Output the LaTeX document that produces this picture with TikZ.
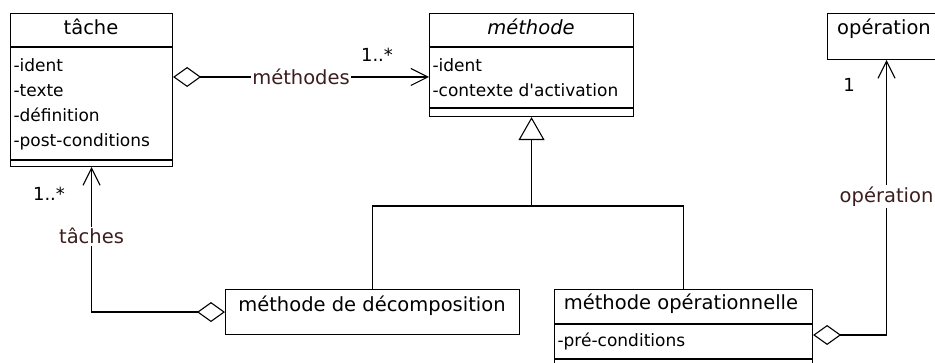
\documentclass[tikz,border=0pt]{standalone}
\usepackage{fontspec}
\setmainfont{DejaVu Sans}
\usetikzlibrary{arrows.meta}
\definecolor{lbl}{RGB}{60,30,30}
\tikzset{
  box/.style={draw, rectangle, anchor=north west, inner sep=0pt},
  ttl/.style={font=\fontsize{19.5}{21}\selectfont, anchor=base, inner sep=0pt},
  attr/.style={font=\fontsize{17}{19}\selectfont, anchor=base west, inner sep=0pt},
  lab/.style={font=\fontsize{19.5}{21}\selectfont, text=lbl, fill=white, inner sep=1.5pt},
  mult/.style={font=\fontsize{18}{20}\selectfont, anchor=base, inner sep=0pt},
  agg/.style={{Diamond[open,length=28pt,width=20pt]}-{Straight Barb[length=17pt,width=17pt]}},
  gen/.style={-{Triangle[open,length=23pt,width=26pt]}}
}
\begin{document}
\begin{tikzpicture}[x=1pt,y=-1pt,line width=1.1pt]
\useasboundingbox[fill=white] (0,0) rectangle (935,363);

% tache
\node[box, minimum width=162pt, minimum height=153pt] (tache) at (10,13) {};
\draw (tache.west |- 0,47) -- (tache.east |- 0,47);
\draw (tache.west |- 0,160) -- (tache.east |- 0,160);
\node[ttl] (tt) at (91,35) {tâche};
\node[attr] (ta1) at (13,72) {-ident};
\node[attr] (ta2) at (13,97) {-texte};
\node[attr] (ta3) at (13,122) {-définition};
\node[attr] (ta4) at (13,147) {-post-conditions};

% methode
\node[box, minimum width=204pt, minimum height=103pt] (methode) at (429,13) {};
\draw (methode.west |- 0,47) -- (methode.east |- 0,47);
\draw (methode.west |- 0,108) -- (methode.east |- 0,108);
\node[ttl] (mt) at (531,35) {\itshape méthode};
\node[attr] (ma1) at (432,72) {-ident};
\node[attr] (ma2) at (432,97) {-contexte d\textquotesingle activation};

% operation
\node[box, minimum width=118pt, minimum height=46pt] (operation) at (827,13) {};
\node[ttl] (ot) at (884,35) {opération};

% methode de decomposition
\node[box, minimum width=294pt, minimum height=45pt] (decomp) at (225,289) {};
\node[ttl] (dt) at (372,312) {méthode de décomposition};

% methode operationnelle
\node[box, minimum width=258pt, minimum height=80pt] (methop) at (554,289) {};
\draw (methop.west |- 0,324) -- (methop.east |- 0,324);
\draw (methop.west |- 0,359) -- (methop.east |- 0,359);
\node[ttl] (opt) at (681,310) {méthode opérationnelle};
\node[attr] (opa1) at (557,347) {-pré-conditions};

% associations
\draw[agg] (tache.east |- 0,77) -- node[lab]{méthodes} (methode.west |- 0,77);
\node[mult] (m1) at (377,62) {1..*};

\draw[agg] (decomp.west) -| node[lab,pos=0.762]{tâches} (tache.south);
\node[mult] (m2) at (49,201) {1..*};

\draw[agg] (methop.east |- 0,335) -| node[lab,pos=0.752]{opération} (operation.south);
\node[mult] (m3) at (849,92) {1};

% generalisation
\coordinate (gj) at (methode.south |- 0,206);
\draw (decomp.north) |- (gj) -| (methop.north);
\draw[gen] (gj) -- (methode.south);
\end{tikzpicture}
\end{document}
